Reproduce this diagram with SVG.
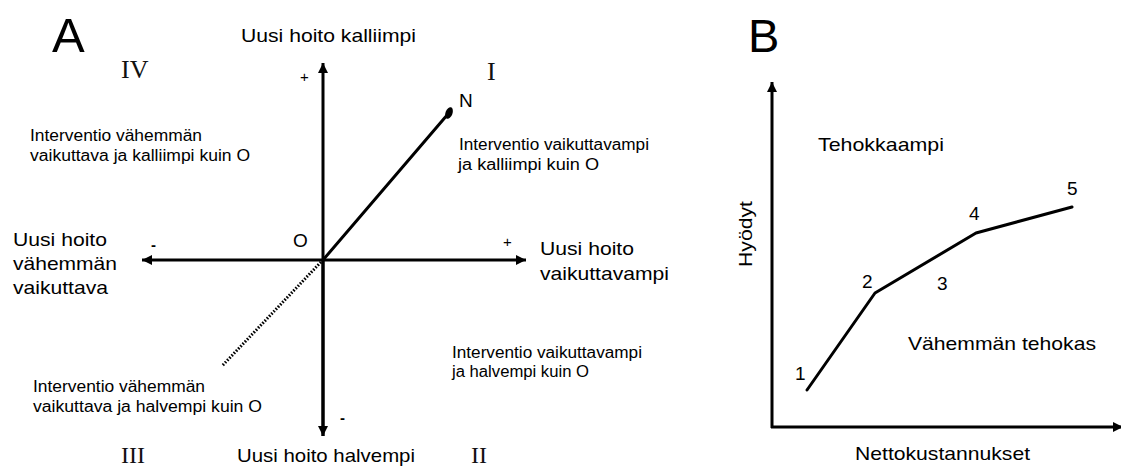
<svg xmlns="http://www.w3.org/2000/svg" width="1121" height="468" viewBox="0 0 1121 468">
<style>
.t{font-family:"Liberation Sans",Arial,sans-serif;fill:#000}
.lbl{font-size:19px}
.sm{font-size:16px}
.sig{font-size:15px}
.dash{font-size:15px;font-weight:bold}
.rom{font-family:"Liberation Serif","Times New Roman",serif;font-size:26px;fill:#111}
.rom2{font-family:"Liberation Serif","Times New Roman",serif;font-size:24px;fill:#111}
.ax{stroke:#000;stroke-width:3;fill:none}
.ln{stroke:#000;stroke-width:3;fill:none;stroke-linecap:round;stroke-linejoin:round}
.dot{stroke:#000;stroke-width:3;fill:none;stroke-dasharray:1.6 1.6}
</style>
<defs>
<marker id="arr" viewBox="0 0 10 10" refX="10" refY="5" markerWidth="11" markerHeight="10" markerUnits="userSpaceOnUse" orient="auto">
<path d="M0,0 L10,5 L0,10 z" fill="#000"/>
</marker>
</defs>
<rect width="1121" height="468" fill="#fff"/>

<g id="connectors">
<line class="ax" x1="323" y1="436" x2="323" y2="63" marker-end="url(#arr)"/>
<line class="ax" x1="323" y1="260" x2="323" y2="436" marker-end="url(#arr)"/>
<line class="ax" x1="323" y1="260" x2="142" y2="260" marker-end="url(#arr)"/>
<line class="ax" x1="323" y1="260" x2="526" y2="260" marker-end="url(#arr)"/>
<line class="ln" x1="323" y1="260" x2="448" y2="114"/>
<line class="dot" x1="321" y1="262" x2="222" y2="366"/>
<line class="ax" x1="772" y1="428" x2="772" y2="82" marker-end="url(#arr)"/>
<line class="ax" x1="771" y1="427" x2="1123" y2="427" marker-end="url(#arr)"/>
<polyline class="ln" points="807,390 875,293 976,233 1072,207"/>
</g>

<g id="panelA-title"><text class="t" x="52" y="52" font-size="49">A</text></g>
<g id="quadrant-IV"><text class="rom" x="121" y="78">IV</text></g>
<g id="quadrant-I"><text class="rom" x="487" y="80">I</text></g>
<g id="quadrant-III"><text class="rom2" x="121" y="463">III</text></g>
<g id="quadrant-II"><text class="rom2" x="471" y="463">II</text></g>

<g id="axis-top"><text class="t lbl" x="241" y="42" textLength="175" lengthAdjust="spacingAndGlyphs">Uusi hoito kalliimpi</text>
<text class="t sig" x="300" y="82">+</text></g>
<g id="axis-bottom"><text class="t lbl" x="237" y="462" textLength="178" lengthAdjust="spacingAndGlyphs">Uusi hoito halvempi</text>
<text class="t dash" x="340" y="423">-</text></g>
<g id="axis-left"><text class="t lbl" x="13" y="246" textLength="94" lengthAdjust="spacingAndGlyphs">Uusi hoito</text>
<text class="t lbl" x="13" y="270" textLength="104" lengthAdjust="spacingAndGlyphs">vähemmän</text>
<text class="t lbl" x="13" y="294" textLength="95" lengthAdjust="spacingAndGlyphs">vaikuttava</text>
<text class="t dash" x="151" y="250">-</text></g>
<g id="axis-right"><text class="t lbl" x="540" y="255" textLength="94" lengthAdjust="spacingAndGlyphs">Uusi hoito</text>
<text class="t lbl" x="540" y="280" textLength="129" lengthAdjust="spacingAndGlyphs">vaikuttavampi</text>
<text class="t sig" x="503" y="247">+</text></g>
<g id="origin"><text class="t lbl" x="293" y="247">O</text></g>
<g id="point-N"><ellipse cx="449" cy="113" rx="3.5" ry="6" transform="rotate(20 449 113)" fill="#000"/>
<text class="t lbl" x="459" y="107">N</text></g>

<g id="text-IV"><text class="t sm" x="30" y="141" textLength="172" lengthAdjust="spacingAndGlyphs">Interventio vähemmän</text>
<text class="t sm" x="30" y="161" textLength="220" lengthAdjust="spacingAndGlyphs">vaikuttava ja kalliimpi kuin O</text></g>
<g id="text-I"><text class="t sm" x="459" y="150" textLength="190" lengthAdjust="spacingAndGlyphs">Interventio vaikuttavampi</text>
<text class="t sm" x="458" y="170" textLength="141" lengthAdjust="spacingAndGlyphs">ja kalliimpi kuin O</text></g>
<g id="text-II"><text class="t sm" x="452" y="358" textLength="190" lengthAdjust="spacingAndGlyphs">Interventio vaikuttavampi</text>
<text class="t sm" x="452" y="377" textLength="137" lengthAdjust="spacingAndGlyphs">ja halvempi kuin O</text></g>
<g id="text-III"><text class="t sm" x="33" y="392" textLength="172" lengthAdjust="spacingAndGlyphs">Interventio vähemmän</text>
<text class="t sm" x="33" y="412" textLength="229" lengthAdjust="spacingAndGlyphs">vaikuttava ja halvempi kuin O</text></g>

<g id="panelB-title"><text class="t" x="748" y="52" font-size="47">B</text></g>
<g id="axis-y-B"><text class="t lbl" transform="translate(752 234) rotate(-90)" text-anchor="middle" textLength="66" lengthAdjust="spacingAndGlyphs">Hyödyt</text></g>
<g id="axis-x-B"><text class="t lbl" x="855" y="460" textLength="175" lengthAdjust="spacingAndGlyphs">Nettokustannukset</text></g>
<g id="region-upper"><text class="t lbl" x="818" y="151" textLength="126" lengthAdjust="spacingAndGlyphs">Tehokkaampi</text></g>
<g id="region-lower"><text class="t lbl" x="908" y="350" textLength="188" lengthAdjust="spacingAndGlyphs">Vähemmän tehokas</text></g>
<g id="p1"><text class="t lbl" x="795" y="380">1</text></g>
<g id="p2"><text class="t lbl" x="862" y="288">2</text></g>
<g id="p3"><text class="t lbl" x="937" y="290">3</text></g>
<g id="p4"><text class="t lbl" x="969" y="220">4</text></g>
<g id="p5"><text class="t lbl" x="1067" y="195">5</text></g>
</svg>
